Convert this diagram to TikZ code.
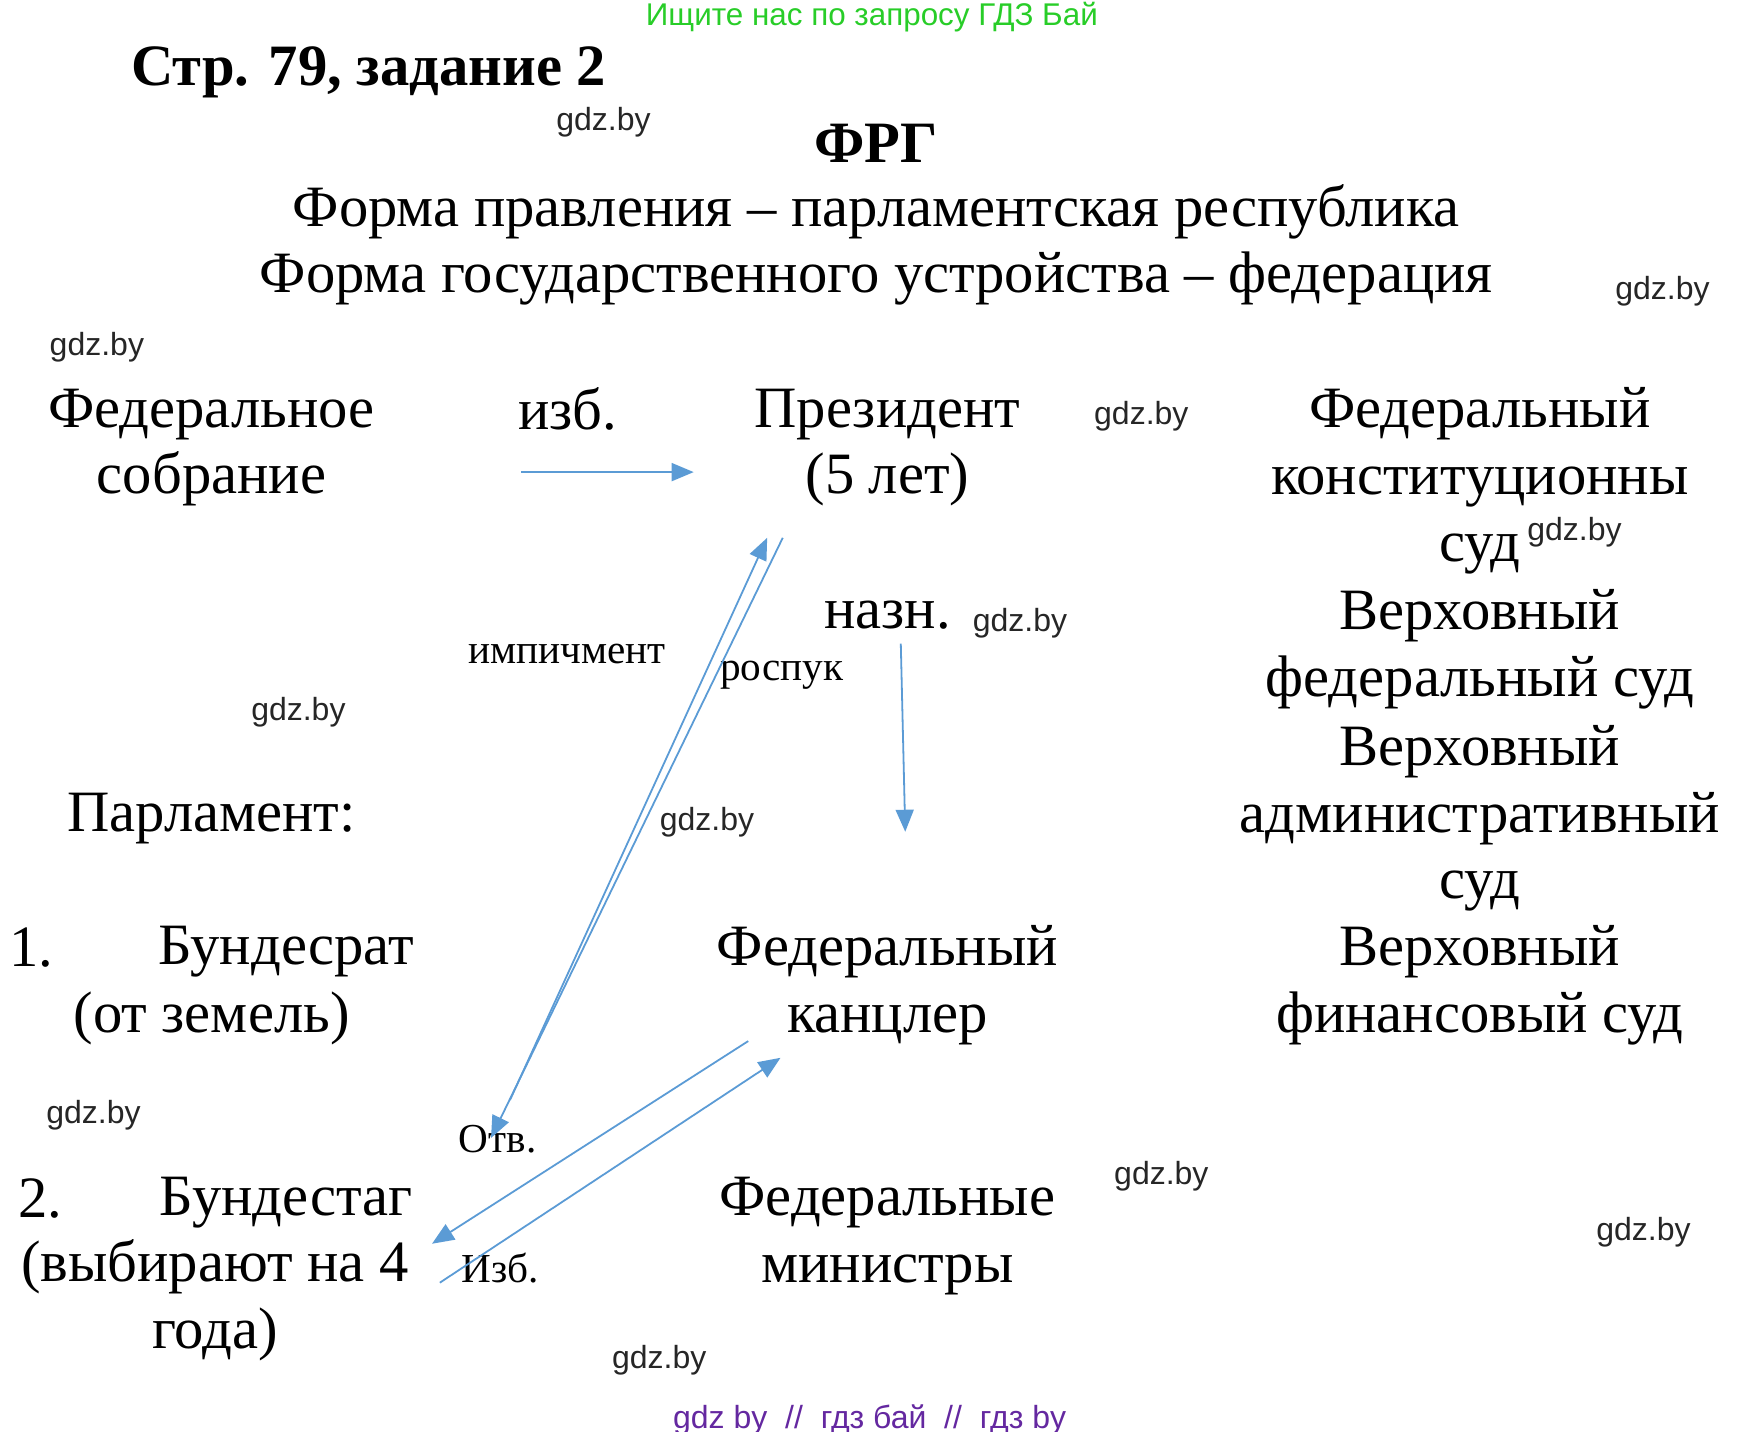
\documentclass[tikz,border=0pt]{standalone}
\usepackage{fontspec}
\setmainfont{Liberation Serif}
\newfontfamily\wmfont{Liberation Sans}
\usepackage{xcolor}
\usepackage{tikz}
\usetikzlibrary{arrows.meta, positioning}
\definecolor{gdzgreen}{RGB}{40, 205, 40}
\definecolor{gdzpurple}{RGB}{100, 40, 160}
\definecolor{linkblue}{RGB}{91, 155, 213}

\tikzset{
  txt/.style={font=\fontsize{29.3}{33.4}\selectfont, align=center, inner sep=0pt},
  lbl/.style={font=\fontsize{20.6}{24}\selectfont, inner sep=0pt},
  wm/.style={font=\wmfont\fontsize{16}{19}\selectfont, text=black!85, inner sep=0pt},
  link/.style={linkblue, line width=0.9pt, -{Triangle[length=11pt, width=9pt]}},
}

\begin{document}
\begin{tikzpicture}[x=0.55673pt, y=-0.55673pt]
			\useasboundingbox (0,0) rectangle (1560,1286);

			% Header and headings
			\node[font=\wmfont\fontsize{15.7}{18}\selectfont, text=gdzgreen, inner sep=0pt] (hdr) at (783,15) {Ищите нас по запросу ГДЗ Бай};
			\node[txt, font=\bfseries\fontsize{29.3}{33.4}\selectfont] (title) at (331,65) {Стр. 79, задание 2};
			\node[txt, font=\bfseries\fontsize{29.3}{33.4}\selectfont] (frg) at (787,129) {ФРГ};
			\node[txt] (form1) at (787,190) {Форма правления – парламентская республика};
			\node[txt] (form2) at (787,250) {Форма государственного устройства – федерация};

			% Left column
			\node[txt] (fedsob) at (190,402) {Федеральное\\собрание};
			\node[txt] (parl) at (190,735) {Парламент:};
			\node[txt] (num1) at (28,851) {1.};
			\node[txt] (brat) at (257,855) {Бундесрат};
			\node[txt] (zem) at (190,915) {(от земель)};
			\node[txt] (num2) at (36,1076) {2.};
			\node[txt] (btag) at (257,1080) {Бундестаг};
			\node[txt] (vyb) at (193,1168) {(выбирают на 4\\года)};

			% Middle column
			\node[txt] (izb) at (510,367) {изб.};
			\node[txt] (pres) at (797,402) {Президент\\(5 лет)};
			\node[txt] (nazn) at (797,552) {назн.};
			\node[txt] (kanz) at (797,885) {Федеральный\\канцлер};
			\node[txt] (minis) at (797,1110) {Федеральные\\министры};
			\node[lbl] (imp) at (509,587) {импичмент};
			\node[lbl] (rosp) at (702,606) {роспук};
			\node[lbl] (otv) at (447,1023) {Отв.};
			\node[lbl] (izb2) at (449,1139) {Изб.};

			% Courts
			\node[txt] (fks) at (1329,432) {Федеральный\\конституционны\\суд};
			\node[txt] (vfs) at (1329,583) {Верховный\\федеральный суд};
			\node[txt] (vas) at (1329,735) {Верховный\\административный\\суд};
			\node[txt] (vfin) at (1329,885) {Верховный\\финансовый суд};

			% Arrow ends
			\coordinate (fsR) at (468,424);
			\coordinate (presL) at (623,424);
			\coordinate (impS) at (458,988);
			\coordinate (impE) at (689,483);
			\coordinate (rospS) at (703,483);
			\coordinate (rospE) at (441,1022);
			\coordinate (naznS) at (809,578);
			\coordinate (naznE) at (813,747);
			\coordinate (kanzS) at (672,935);
			\coordinate (btagE) at (388,1117);
			\coordinate (btagS) at (395,1152);
			\coordinate (kanzE) at (701,950);

			\draw[link] (fsR) -- (presL);
			\draw[link] (impS) -- (impE);
			\draw[link] (rospS) -- (rospE);
			\draw[link] (naznS) -- (naznE);
			\draw[link] (kanzS) -- (btagE);
			\draw[link] (btagS) -- (kanzE);

			% Watermarks
			\foreach \x/\y [count=\i] in {542/110, 1493/262, 87/312, 1025/374, 1414/478, 916/560, 268/640, 635/738, 84/1002, 1043/1056, 1476/1107, 592/1222}
				\node[wm] (wm\i) at (\x,\y) {gdz.by};

			\node[font=\wmfont\fontsize{16}{19}\selectfont, text=gdzpurple, inner sep=0pt] (foot) at (781,1275) {gdz by~~//~~гдз бай~~//~~гдз by};

		\end{tikzpicture}
\end{document}
